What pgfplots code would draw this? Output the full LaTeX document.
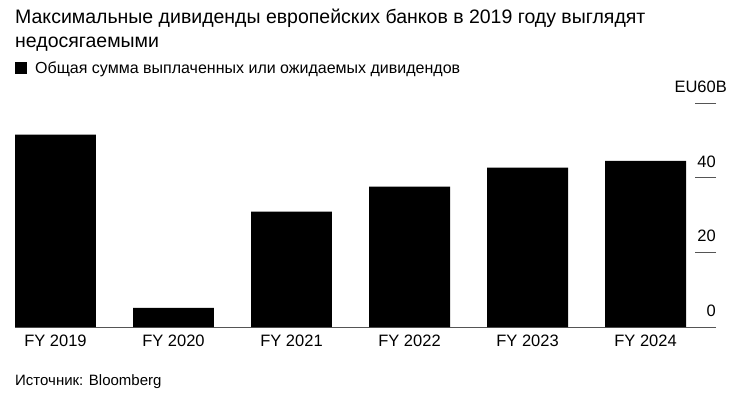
\documentclass[border=0pt]{standalone}
\usepackage{pgfplots}
\pgfplotsset{compat=1.18}
\usepackage{fontspec}
\setmainfont{Liberation Sans}
\definecolor{tickgray}{HTML}{555555}
\begin{document}
\begin{tikzpicture}[x=1pt,y=1pt]
\useasboundingbox (0,0) rectangle (736,397);
\node[anchor=base west, inner sep=0pt, font=\fontsize{19.5}{22}\selectfont] at (15,373) {Максимальные дивиденды европейских банков в 2019 году выглядят};
\node[anchor=base west, inner sep=0pt, font=\fontsize{19.5}{22}\selectfont] at (15,349) {недосягаемыми};
\node[anchor=base west, inner sep=0pt, font=\fontsize{15}{17}\selectfont] at (15,12) {Источник: Bloomberg};
\begin{axis}[
  at={(15pt,70pt)}, anchor=south west, scale only axis,
  width=701pt, height=224pt,
  xmin=-0.343, xmax=5.597, ymin=0, ymax=60,
  axis x line*=bottom, axis y line*=right,
  y axis line style={draw=none},
  x axis line style={tickgray, line width=1pt},
  xtick=data,
  xticklabels={FY 2019,FY 2020,FY 2021,FY 2022,FY 2023,FY 2024},
  xtick style={draw=none},
  xticklabel style={font=\fontsize{16.5}{18}\selectfont, inner sep=0pt, yshift=-8pt},
  ytick={0,20,40,60},
  yticklabels={0,20,40,EU60\rlap{B}},
  ytick style={tickgray, line width=1pt},
  major tick length=21pt, tick align=inside,
  yticklabel style={font=\fontsize{16.5}{18}\selectfont, anchor=south east, inner sep=0pt, xshift=0pt, yshift=10pt},
  legend style={at={(0,1)}, anchor=north west, yshift=43.5pt, draw=none, fill=none,
    font=\fontsize{16}{18}\selectfont, inner sep=0pt},
  legend cell align=left,
  legend image code/.code={\fill[black] (0pt,-6pt) rectangle (12pt,6pt);},
]
\addplot[ybar, fill=black, draw=none, bar width=0.686]
  coordinates {(0,51.5) (1,5.1) (2,30.9) (3,37.6) (4,42.7) (5,44.5)};
\addlegendentry{\hspace*{6pt}Общая сумма выплаченных или ожидаемых дивидендов}
\end{axis}
\end{tikzpicture}
\end{document}
